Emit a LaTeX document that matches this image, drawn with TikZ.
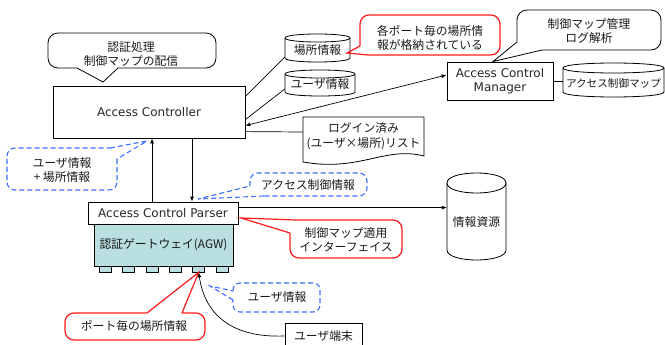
\documentclass[tikz,border=0pt]{standalone}
\usepackage{fontspec}
\setmainfont{Noto Sans CJK JP}
\newfontfamily\latfont{DejaVu Sans}
\usetikzlibrary{arrows.meta,calc}
\definecolor{agwteal}{HTML}{B9DFE1}
\definecolor{calred}{HTML}{FF1A1A}
\definecolor{calblue}{HTML}{3D6EFF}
\newcommand\dbcyl[5]{%
  \draw[line width=0.8pt, fill=white] (#1,#3+#5) -- (#1,#4-#5) .. controls (#1,#4+#5/3) and (#2,#4+#5/3) .. (#2,#4-#5) -- (#2,#3+#5) .. controls (#2,#3-#5/3) and (#1,#3-#5/3) .. cycle;
  \draw[line width=0.8pt] (#1,#3+#5) .. controls (#1,#3+#5*7/3) and (#2,#3+#5*7/3) .. (#2,#3+#5);}
\tikzset{
  box/.style={draw, line width=0.8pt, fill=white, inner sep=0pt},
  lab/.style={font=\latfont\fontsize{12}{14}\selectfont, text=black!85, align=center},
  jp/.style={font=\fontsize{11.8}{14.5}\selectfont, text=black!90, align=center, inner sep=0pt},
  conn/.style={line width=0.7pt},
  arr/.style={-{Latex[length=5pt,width=4pt]}},
  dblarr/.style={{Latex[length=5pt,width=4pt]}-{Latex[length=5pt,width=4pt]}},
  redcall/.style={draw=calred, line width=1.2pt, rounded corners=9pt},
  redwedge/.style={draw=calred, line width=1.2pt},
  bluecall/.style={draw=calblue, line width=1.1pt, dash pattern=on 5pt off 3pt, rounded corners=8pt},
  bluewedge/.style={draw=calblue, line width=1.1pt, dash pattern=on 5pt off 3pt},
  blackcall/.style={draw, line width=0.8pt, rounded corners=10pt},
  blackwedge/.style={draw, line width=0.8pt},
  port/.style={draw, line width=0.7pt, fill=agwteal, minimum width=12pt, minimum height=6pt, inner sep=0pt},
}
\begin{document}
\begin{tikzpicture}[x=1pt,y=-1pt]
\useasboundingbox (0,0) rectangle (665,345);
\clip (0,0) rectangle (665,345);

% main boxes
\node[box, lab, minimum width=192pt, minimum height=52pt] (ac) at (149,112) {Access Controller};
\node[box, lab, minimum width=106pt, minimum height=38pt] (acm) at (500,81) {Access Control\\Manager};
\node[box, jp, fill=agwteal, minimum width=139pt, minimum height=42pt] (agw) at (163.5,245) {認証ゲートウェイ(AGW)};
\node[box, lab, minimum width=150pt, minimum height=22pt] (acp) at (163,213) {Access Control Parser};
\foreach \i in {1,...,6} {
  \node[port] (port\i) at ({105.5+23.3*(\i-1)},269) {};
}

% databases
\dbcyl{285}{350}{34}{62}{4}
\node[jp, minimum width=65pt, minimum height=22pt] (place) at (317.5,50) {場所情報};
\dbcyl{285}{355}{70}{96}{4}
\node[jp, minimum width=70pt, minimum height=22pt] (user) at (320,84) {ユーザ情報};
\dbcyl{563}{664}{63}{97}{5}
\node[jp, font=\fontsize{10.6}{13}\selectfont, minimum width=101pt, minimum height=24pt] (map) at (613.5,83) {アクセス制御マップ};
\dbcyl{447}{506}{173}{260}{10}
\node[jp, minimum width=59pt, minimum height=60pt] (info) at (476.5,222) {情報資源};

% login list document
\draw[line width=0.8pt, fill=white] (303,117) -- (424,117) -- (424,156) .. controls (385,146) and (360,172) .. (303,162) -- cycle;
\node[jp, minimum width=121pt, minimum height=30pt] (login) at (363.5,136) {ログイン済み\\(ユーザ×場所)リスト};

% user terminal
\node[box, jp, minimum width=77pt, minimum height=26pt] (term) at (323.5,336) {ユーザ端末};

% connectors
\draw[conn] ([yshift=-11pt]ac.north east) -- ([yshift=-7pt]place.west);
\draw[conn] ([yshift=-34pt]ac.north east) -- ([yshift=-5pt]user.west);
\draw[conn, dblarr] ([yshift=-40pt]ac.north east) -- ([yshift=6pt]acm.west);
\draw[conn] ([yshift=-46pt]ac.north east) -- ([yshift=4pt]login.west);
\draw[conn] (acm.east) -- (acm.east -| map.west);
\draw[conn, arr] ([xshift=-11pt]acp.north) -- ([xshift=-11pt]acp.north |- ac.south);
\draw[conn, arr] ([xshift=29pt]acp.north |- ac.south) -- ([xshift=29pt]acp.north);
\coordinate (p1) at ([yshift=-6pt]acp.north east);
\draw[conn, arr] (p1) -- (p1 -| info.west);
\draw[conn, arr] (term.west) .. controls (232,338) and (205,315) .. (port5.south);

% callouts
\draw[blackcall] (118,68) -- (216,68) -- (216,33) -- (48,33) -- (48,68) -- (77,68);
\draw[blackwedge] (77,68) -- (103,82) -- (118,68);
\node[jp] (c1) at (131,54) {認証処理\\制御マップの配信};

\draw[redcall] (368,55) -- (500,55) -- (500,15) -- (360,15) -- (360,46);
\draw[redwedge] (360,46) -- (347,53) -- (368,55);
\node[jp] (c2) at (430,38) {各ポート毎の場所情\\報が格納されている};

\draw[blackcall] (542,50) -- (661,50) -- (661,10) -- (517,10) -- (517,42);
\draw[blackwedge] (517,42) -- (acm.north -| 493,0) -- (542,50);
\node[jp] (c3) at (589,31) {制御マップ管理\\ログ解析};

\draw[bluecall] (117,159) -- (117,190) -- (7,190) -- (7,148) -- (110,148);
\draw[bluewedge] (110,148) -- (147,141) -- (117,159);
\node[jp] (c4) at (62,170) {ユーザ情報\\+ 場所情報};

\draw[bluecall] (250,186) -- (250,173) -- (367,173) -- (367,196) -- (264,196);
\draw[bluewedge] (264,196) -- (198,199) -- (250,186);
\node[jp] (c5) at (308,185) {アクセス制御情報};

\draw[redcall] (290,233) -- (290,258) -- (402,258) -- (402,220) -- (296,220);
\draw[redwedge] (296,220) -- (241,218) -- (290,233);
\node[jp] (c6) at (346,240) {制御マップ適用\\インターフェイス};

\draw[bluecall, rounded corners=7pt] (233,291) -- (233,283) -- (320,283) -- (320,312) -- (233,312) -- (233,300);
\draw[bluewedge] (233,300) -- (210,286) -- (233,291);
\node[jp] (c7) at (277,297) {ユーザ情報};

\draw[redcall] (182,313) -- (205,313) -- (205,340) -- (65,340) -- (65,313) -- (147,313);
\draw[redwedge] (147,313) -- (port5.south) -- (182,313);
\node[jp] (c8) at (134,326) {ポート毎の場所情報};
\end{tikzpicture}
\end{document}
